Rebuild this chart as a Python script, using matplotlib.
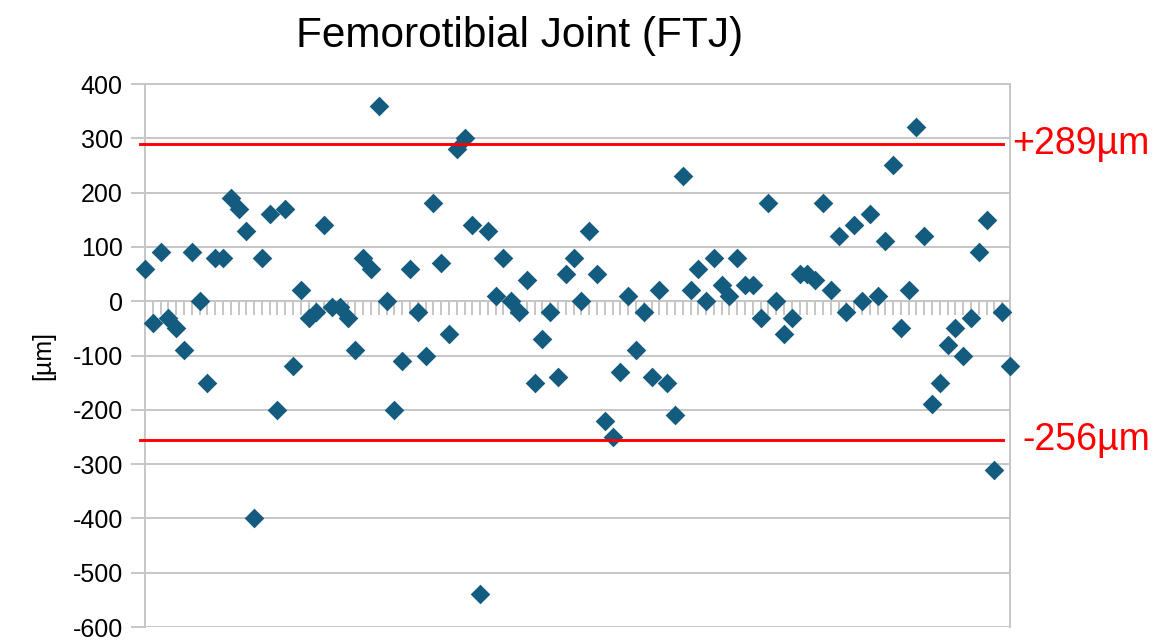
import matplotlib
matplotlib.use("Agg")
import matplotlib.pyplot as plt
import numpy as np

plt.rcParams['font.family'] = ['Liberation Sans', 'DejaVu Sans']
plt.rcParams['axes.unicode_minus'] = False

# deviations per sample (µm)
values = [
    60, -40, 90, -30, -50, -90, 90, 0, -150, 80,
    80, 190, 170, 130, -400, 80, 160, -200, 170, -120,
    20, -30, -20, 140, -10, -10, -30, -90, 80, 60,
    360, 0, -200, -110, 60, -20, -100, 180, 70, -60,
    280, 300, 140, -540, 130, 10, 80, 0, -20, 40,
    -150, -70, -20, -140, 50, 80, 0, 130, 50, -220,
    -250, -130, 10, -90, -20, -140, 20, -150, -210, 230,
    20, 60, 0, 80, 30, 10, 80, 30, 30, -30,
    180, 0, -60, -30, 50, 50, 40, 180, 20, 120,
    -20, 140, 0, 160, 10, 110, 250, -50, 20, 320,
    120, -190, -150, -80, -50, -100, -30, 90, 150, -310,
    -20, -120,
]
samples = np.arange(1, len(values) + 1)

upper_limit = 289
lower_limit = -256
limit_labels = ["+289µm", "-256µm"]

title = "Femorotibial Joint (FTJ)"
y_label = "[µm]"
y_ticks = list(range(-600, 401, 100))

grey = "#c6c6c6"
red = "#ff0000"

fig = plt.figure(figsize=(11.6, 6.4), dpi=100)
ax = fig.add_axes([0.125, 0.0203, 0.7457, 0.8484])

ax.scatter(samples, values, marker="D", s=100, color="#135b7f", zorder=3,
           linewidths=0, clip_on=False)

# limit lines
for lim in [upper_limit, lower_limit]:
    ax.axhline(lim, xmin=-0.006, xmax=0.992, color=red, lw=2.1,
               clip_on=False, zorder=4)
ax.text(1.002, upper_limit, limit_labels[0], transform=ax.get_yaxis_transform(),
        color=red, fontsize=27, va="center", ha="left")
ax.text(1.014, lower_limit, limit_labels[1], transform=ax.get_yaxis_transform(),
        color=red, fontsize=27, va="center", ha="left")

ax.set_xlim(samples[0], samples[-1])
ax.set_ylim(-600, 400)
ax.set_yticks(y_ticks)
ax.yaxis.grid(True, color=grey, lw=1.4)
ax.set_axisbelow(True)

for side in ["left", "right", "top", "bottom"]:
    ax.spines[side].set_color(grey)
    ax.spines[side].set_linewidth(1.4)
ax.spines["bottom"].set_position(("data", 0))

ax.set_xticks(samples)
ax.tick_params(axis="x", direction="out", length=10, width=1.4, color=grey,
               labelbottom=False)
ax.tick_params(axis="y", direction="out", length=10, width=1.4, color=grey,
               labelsize=18, pad=6)

ax.set_ylabel(y_label, fontsize=18, labelpad=12)
fig.text(0.448, 0.943, title, fontsize=30.5, ha="center", va="center")

fig.savefig("out.png", dpi=100)
